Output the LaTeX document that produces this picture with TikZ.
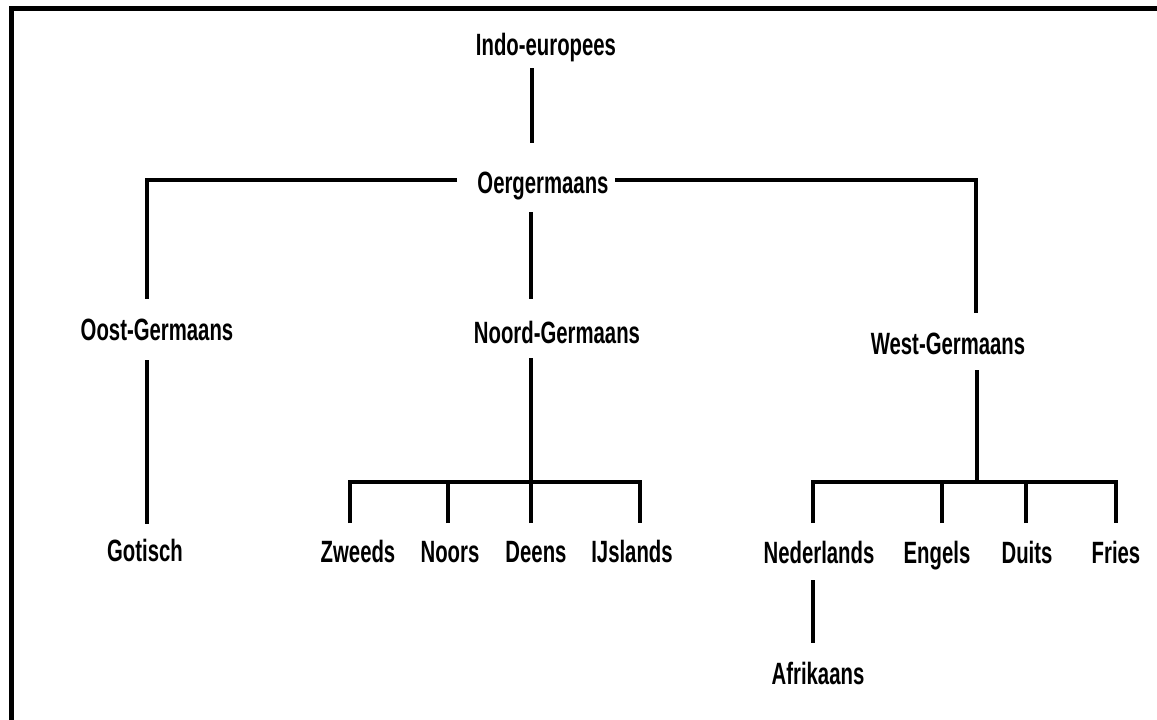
\documentclass[tikz,border=0pt]{standalone}
\usepackage{fontspec}
\setmainfont{Liberation Sans}
\begin{document}
\begin{tikzpicture}[x=0.5pt, y=-0.5pt, line width=2pt,
    lang/.style={font=\bfseries\fontsize{15.4}{16}\selectfont, xscale=0.66,
        inner sep=0pt, text height=11pt, text depth=0pt}]
				\useasboundingbox (0,0) rectangle (1157,719);
				\draw[line width=2.5pt] (11,725) -- (11,8.5) -- (1162,8.5);

				\node[lang] (indo) at (546,44) {Indo-europees};
				\node[lang] (oer) at (543,182) {Oergermaans};

				\node[lang] (oost) at (157,329) {Oost-Germaans};
				\node[lang] (noord) at (557,332) {Noord-Germaans};
				\node[lang] (west) at (948,343) {West-Germaans};

				\node[lang] (gotisch) at (145,550) {Gotisch};

				\node[lang] (zweeds) at (358,551) {Zweeds};
				\node[lang] (noors) at (450,551) {Noors};
				\node[lang] (deens) at (536,551) {Deens};
				\node[lang] (ijslands) at (632,551) {IJslands};

				\node[lang] (nederlands) at (819,552) {Nederlands};
				\node[lang] (engels) at (937,552) {Engels};
				\node[lang] (duits) at (1027,552) {Duits};
				\node[lang] (fries) at (1116,552) {Fries};

				\node[lang] (afrikaans) at (818,673) {Afrikaans};

				% line ends
				\coordinate (indoB) at (532,68);
				\coordinate (oerT) at (532,143);
				\coordinate (oerW) at (457,180);
				\coordinate (oerE) at (615,180);
				\coordinate (oerB) at (531,212);
				\coordinate (oostT) at (147,299);
				\coordinate (noordT) at (531,299);
				\coordinate (westT) at (976,313);
				\coordinate (oostB) at (147,360);
				\coordinate (gotischT) at (147,524);
				\coordinate (noordB) at (531,358);
				\coordinate (noordJ) at (531,482);
				\coordinate (westB) at (977,370);
				\coordinate (westJ) at (977,482);
				\coordinate (zweedsT) at (350,523);
				\coordinate (noorsT) at (448,523);
				\coordinate (deensT) at (531,523);
				\coordinate (ijslandsT) at (640,523);
				\coordinate (nederlandsT) at (813,523);
				\coordinate (engelsT) at (942,523);
				\coordinate (duitsT) at (1026,523);
				\coordinate (friesT) at (1116,523);
				\coordinate (nederlandsB) at (813,580);
				\coordinate (afrikaansT) at (813,643);

				\draw (indoB) -- (oerT);
				\draw (oerW) -- (oerW -| oostT) -- (oostT);
				\draw (oerE) -- (oerE -| westT) -- (westT);
				\draw (oerB) -- (noordT);

				\draw (oostB) -- (gotischT);

				\draw (noordB) -- (noordJ);
				\draw (zweedsT) -- (zweedsT |- noordJ) -- (ijslandsT |- noordJ) -- (ijslandsT);
				\draw (noorsT) -- (noorsT |- noordJ);
				\draw (deensT) -- (deensT |- noordJ);

				\draw (westB) -- (westJ);
				\draw (nederlandsT) -- (nederlandsT |- westJ) -- (friesT |- westJ) -- (friesT);
				\draw (engelsT) -- (engelsT |- westJ);
				\draw (duitsT) -- (duitsT |- westJ);

				\draw (nederlandsB) -- (afrikaansT);
			\end{tikzpicture}
\end{document}
